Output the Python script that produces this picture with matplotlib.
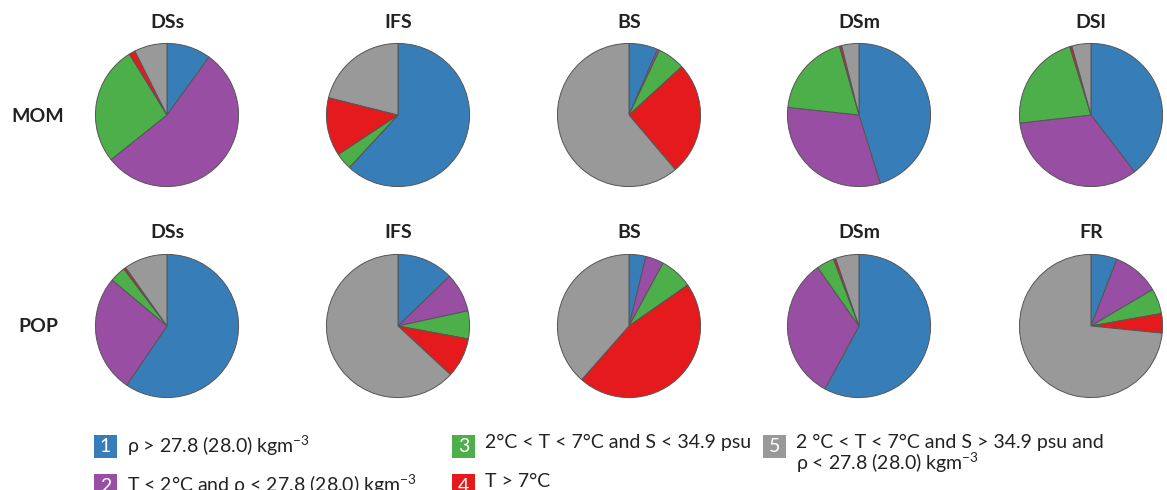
import matplotlib
matplotlib.use("Agg")
import matplotlib.pyplot as plt
from matplotlib.patches import Rectangle

plt.rcParams['font.family'] = ['Lato', 'DejaVu Sans']
plt.rcParams['mathtext.fontset'] = 'custom'
plt.rcParams['mathtext.rm'] = 'Lato'
plt.rcParams['mathtext.it'] = 'Lato:italic'
plt.rcParams['mathtext.bf'] = 'Lato:bold'

# data (% per water class, order: 1 blue, 2 purple, 3 green, 4 red, 5 grey)
models = ['MOM', 'POP']
mom_titles = ['DSs', 'IFS', 'BS', 'DSm', 'DSl']
pop_titles = ['DSs', 'IFS', 'BS', 'DSm', 'FR']
mom_dss = [10.0, 54.3, 26.9, 1.4, 7.4]
mom_ifs = [61.9, 0.0, 3.8, 13.2, 21.1]
mom_bs = [6.5, 0.5, 6.2, 25.6, 61.2]
mom_dsm = [45.2, 31.5, 18.9, 0.5, 3.9]
mom_dsl = [39.6, 33.6, 22.0, 0.5, 4.3]
pop_dss = [59.5, 26.6, 3.6, 0.5, 9.8]
pop_ifs = [12.8, 8.8, 6.3, 9.0, 63.1]
pop_bs = [3.8, 4.1, 7.4, 46.2, 38.5]
pop_dsm = [57.9, 32.3, 4.0, 0.5, 5.3]
pop_fr = [5.9, 10.6, 5.7, 4.4, 73.4]
mom_data = [mom_dss, mom_ifs, mom_bs, mom_dsm, mom_dsl]
pop_data = [pop_dss, pop_ifs, pop_bs, pop_dsm, pop_fr]

class_ids = ['1', '2', '3', '4', '5']
class_labels = ['ρ > 27.8 (28.0) kgm$^{-3}$',
                'T < 2°C and ρ < 27.8 (28.0) kgm$^{-3}$',
                '2°C < T < 7°C and S < 34.9 psu',
                'T > 7°C',
                '2 °C < T < 7°C and S > 34.9 psu and\nρ < 27.8 (28.0) kgm$^{-3}$']
colors = ['#377eb8', '#984ea3', '#4daf4a', '#e41a1c', '#999999']

W, H = 1167, 490
fig = plt.figure(figsize=(W / 100, H / 100), dpi=100)

def fx(px):
    return px / W

def fy(py):
    return 1 - py / H

col_x = [167, 398, 629, 859, 1091]
row_y = [115, 326]
title_y = [22, 233]
r = 73

for row, (titles, data) in enumerate([(mom_titles, mom_data), (pop_titles, pop_data)]):
    for col in range(5):
        cx, cy = col_x[col], row_y[row]
        ax = fig.add_axes([fx(cx - r), fy(cy + r), 2 * r / W, 2 * r / H])
        ax.pie(data[col], colors=colors, startangle=90, counterclock=False,
               radius=1, wedgeprops=dict(edgecolor='#555555', linewidth=0.7))
        ax.set_xlim(-1.02, 1.02)
        ax.set_ylim(-1.02, 1.02)
        ax.axis('off')
        fig.text(fx(cx), fy(title_y[row]), titles[col], ha='center', va='center',
                 fontsize=14, fontweight='bold', color='#222222')
    fig.text(fx(38), fy(row_y[row] + 1), models[row], ha='center', va='center',
             fontsize=14, fontweight='bold', color='#222222')

# legend
sq = 23
leg_pos = [(94, 446), (94, 485), (452, 446), (452, 485), (763, 446)]
for i in range(5):
    lx, ly = leg_pos[i]
    fig.add_artist(Rectangle((fx(lx), fy(ly + sq / 2)), sq / W, sq / H,
                             transform=fig.transFigure, facecolor=colors[i],
                             edgecolor='none'))
    fig.text(fx(lx + sq / 2), fy(ly + 1), class_ids[i], ha='center', va='center',
             fontsize=14, color='white')
    fig.text(fx(lx + 33), fy(ly - 12), class_labels[i], ha='left', va='top',
             fontsize=14, color='#222222', linespacing=1.0)

fig.savefig('out.png', dpi=100)
